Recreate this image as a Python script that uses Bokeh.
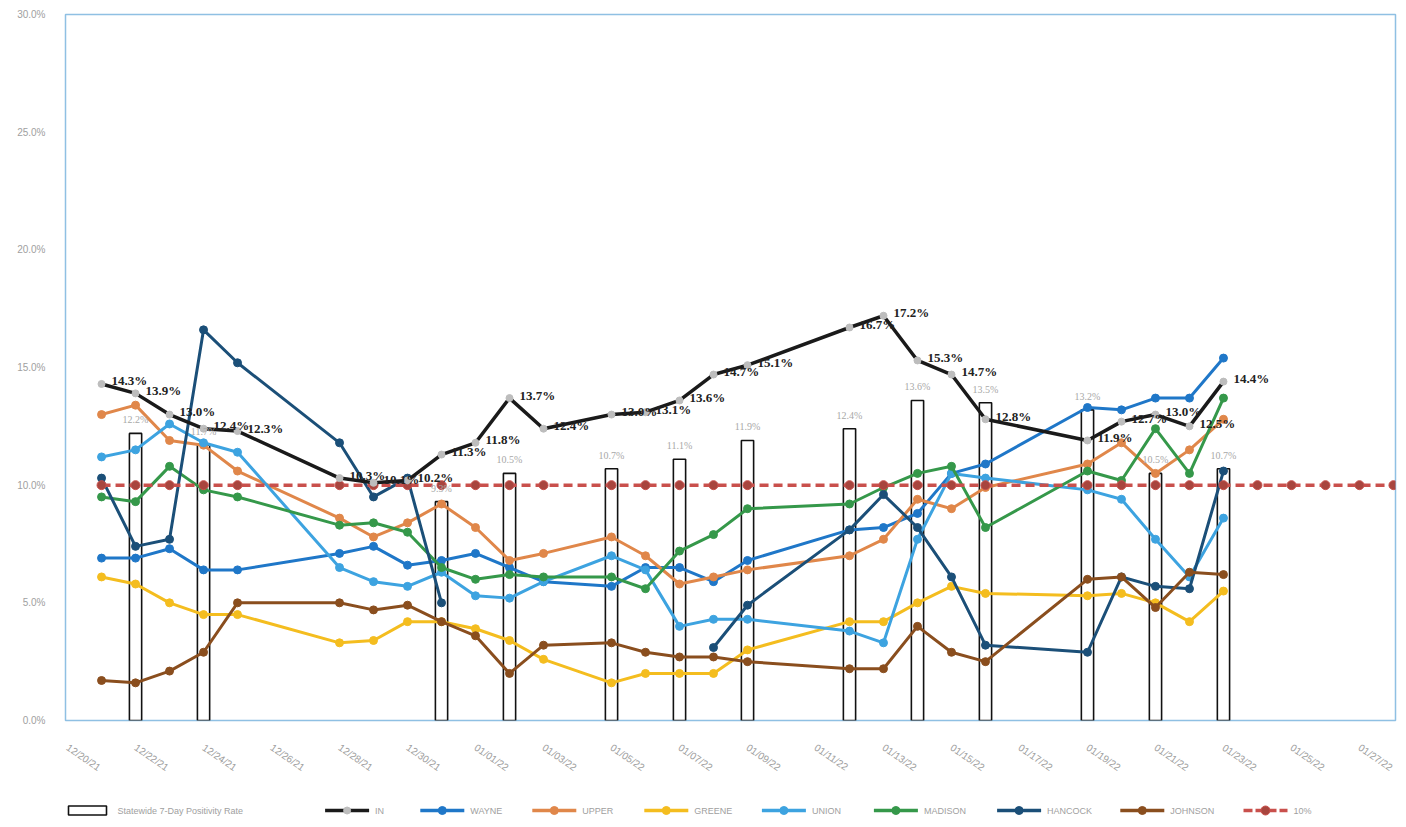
import math
from bokeh.plotting import figure
from bokeh.layouts import column
from bokeh.models import (Range1d, FixedTicker, ColumnDataSource, LabelSet)
from bokeh.core.properties import value
from bokeh.embed import file_html
from bokeh.resources import INLINE

# ---------------- data ----------------
nan = float("nan")
tick_days = list(range(0, 40, 2))
tick_labels = ["12/20/21", "12/22/21", "12/24/21", "12/26/21", "12/28/21",
               "12/30/21", "01/01/22", "01/03/22", "01/05/22", "01/07/22",
               "01/09/22", "01/11/22", "01/13/22", "01/15/22", "01/17/22",
               "01/19/22", "01/21/22", "01/23/22", "01/25/22", "01/27/22"]

days = [1, 2, 3, 4, 5, 8, 9, 10, 11, 12, 13, 14, 16, 17, 18, 19, 20,
        23, 24, 25, 26, 27, 30, 31, 32, 33, 34]

state = [14.3, 13.9, 13.0, 12.4, 12.3, 10.3, 10.1, 10.2, 11.3, 11.8, 13.7, 12.4,
         13.0, 13.1, 13.6, 14.7, 15.1, 16.7, 17.2, 15.3, 14.7, 12.8,
         11.9, 12.7, 13.0, 12.5, 14.4]
wayne = [6.9, 6.9, 7.3, 6.4, 6.4, 7.1, 7.4, 6.6, 6.8, 7.1, 6.5, 5.9,
         5.7, 6.5, 6.5, 5.9, 6.8, 8.1, 8.2, 8.8, 10.5, 10.9,
         13.3, 13.2, 13.7, 13.7, 15.4]
upper = [13.0, 13.4, 11.9, 11.7, 10.6, 8.6, 7.8, 8.4, 9.2, 8.2, 6.8, 7.1,
         7.8, 7.0, 5.8, 6.1, 6.4, 7.0, 7.7, 9.4, 9.0, 9.9,
         10.9, 11.8, 10.5, 11.5, 12.8]
greene = [6.1, 5.8, 5.0, 4.5, 4.5, 3.3, 3.4, 4.2, 4.2, 3.9, 3.4, 2.6,
          1.6, 2.0, 2.0, 2.0, 3.0, 4.2, 4.2, 5.0, 5.7, 5.4,
          5.3, 5.4, 5.0, 4.2, 5.5]
union = [11.2, 11.5, 12.6, 11.8, 11.4, 6.5, 5.9, 5.7, 6.3, 5.3, 5.2, 5.9,
         7.0, 6.4, 4.0, 4.3, 4.3, 3.8, 3.3, 7.7, 10.5, 10.3,
         9.8, 9.4, 7.7, 6.1, 8.6]
madison = [9.5, 9.3, 10.8, 9.8, 9.5, 8.3, 8.4, 8.0, 6.5, 6.0, 6.2, 6.1,
           6.1, 5.6, 7.2, 7.9, 9.0, 9.2, 9.9, 10.5, 10.8, 8.2,
           10.6, 10.2, 12.4, 10.5, 13.7]
hancock = [10.3, 7.4, 7.7, 16.6, 15.2, 11.8, 9.5, 10.3, 5.0, nan, nan, nan,
           nan, nan, nan, 3.1, 4.9, 8.1, 9.6, 8.2, 6.1, 3.2,
           2.9, 6.1, 5.7, 5.6, 10.6]
johnson = [1.7, 1.6, 2.1, 2.9, 5.0, 5.0, 4.7, 4.9, 4.2, 3.6, 2.0, 3.2,
           3.3, 2.9, 2.7, 2.7, 2.5, 2.2, 2.2, 4.0, 2.9, 2.5,
           6.0, 6.1, 4.8, 6.3, 6.2]

bar_days = [2, 4, 11, 13, 16, 18, 20, 23, 25, 27, 30, 32, 34]
bar_vals = [12.2, 11.7, 9.3, 10.5, 10.7, 11.1, 11.9, 12.4, 13.6, 13.5, 13.2, 10.5, 10.7]

goal_days = days + [35, 36, 37, 38, 39]
goal_vals = [10.0] * len(goal_days)

y_ticks = [0, 5, 10, 15, 20, 25, 30]
y_labels = ["0.0%", "5.0%", "10.0%", "15.0%", "20.0%", "25.0%", "30.0%"]

series = [
    ("WAYNE", wayne, "#1f77c8"),
    ("UPPER", upper, "#e0874a"),
    ("GREENE", greene, "#f4bd1f"),
    ("UNION", union, "#3da3e0"),
    ("MADISON", madison, "#35984a"),
    ("HANCOCK", hancock, "#1b4f78"),
    ("JOHNSON", johnson, "#8a4e1e"),
]
bar_name = "Statewide 7-Day Positivity Rate"
state_name = "IN"
goal_name = "10%"

STATE_COL, STATE_DOT = "#1a1a1a", "#bdbdbd"
GOAL_COL, GOAL_DOT = "#c9504c", "#a8453e"
TXT = "#a0a0a0"

# ---------------- main figure ----------------
p = figure(width=1398, height=789, output_backend="svg", toolbar_location=None,
           x_range=Range1d(-0.06, 39.06), y_range=Range1d(0, 30),
           min_border_left=65, min_border_right=3, min_border_top=14,
           min_border_bottom=69)
p.grid.visible = False
p.outline_line_color = "#8fc0e3"
p.outline_line_width = 1.5
p.background_fill_color = "white"

p.xaxis.ticker = FixedTicker(ticks=tick_days)
p.xaxis.major_label_overrides = {d: l for d, l in zip(tick_days, tick_labels)}
p.xaxis.major_label_orientation = -0.6
p.yaxis.ticker = FixedTicker(ticks=y_ticks)
p.yaxis.major_label_overrides = {t: l for t, l in zip(y_ticks, y_labels)}
for ax in (p.xaxis, p.yaxis):
    ax.axis_line_color = None
    ax.major_tick_line_color = None
    ax.minor_tick_line_color = None
    ax.major_label_text_color = TXT
    ax.major_label_text_font = "Liberation Sans"
    ax.major_label_text_font_size = "10px"
p.yaxis.major_label_standoff = 14
p.xaxis.major_label_standoff = 20

# bars
bsrc = ColumnDataSource(dict(x=bar_days, top=bar_vals,
                             lab=[f"{v:.1f}%" for v in bar_vals]))
p.vbar(x="x", top="top", width=0.36, bottom=0, source=bsrc,
       fill_color="white", line_color="#111111", line_width=1.6)
p.add_layout(LabelSet(x="x", y="top", text="lab", source=bsrc, y_offset=8,
                      text_align="center", text_baseline="bottom",
                      text_font_size="10px", text_color="#a8a8a8",
                      text_font="Liberation Sans"))

for name, vals, col in series:
    src = ColumnDataSource(dict(x=days, y=vals))
    p.line("x", "y", source=src, line_color=col, line_width=3)
    p.scatter("x", "y", source=src, size=8, fill_color=col, line_color=col)

gsrc = ColumnDataSource(dict(x=goal_days, y=goal_vals))
p.line("x", "y", source=gsrc, line_color=GOAL_COL, line_width=3.5, line_dash="9 5")
p.scatter("x", "y", source=gsrc, size=9, fill_color=GOAL_DOT, line_color=GOAL_COL)

ssrc = ColumnDataSource(dict(x=days, y=state, lab=[f"{v:.1f}%" for v in state]))
p.line("x", "y", source=ssrc, line_color=STATE_COL, line_width=3.5)
p.scatter("x", "y", source=ssrc, size=7, fill_color=STATE_DOT, line_color=STATE_DOT)
p.add_layout(LabelSet(x="x", y="y", text="lab", source=ssrc, x_offset=10,
                      y_offset=3, text_align="left", text_baseline="middle",
                      text_font_size="13px", text_font_style="bold",
                      text_color="#222222", text_font="Liberation Serif"))

# ---------------- legend strip (pixel units; frame aligned with main plot) ----------------
W, H = 1398, 30
FRAME_L, FRAME_R = 65, 1395
lg = figure(width=W, height=H, output_backend="svg", toolbar_location=None,
            x_axis_location=None, y_axis_location=None,
            x_range=Range1d(FRAME_L, FRAME_R), y_range=Range1d(0, H),
            min_border_left=65, min_border_right=3, min_border_top=0,
            min_border_bottom=0)
lg.grid.visible = False
lg.outline_line_color = None

GLYPH_W, STANDOFF, GAP, CHAR_W = 44, 6, 34, 5.6
yc = 9
entries = ([("bar", bar_name, None, None, 0)]
           + [("line", state_name, STATE_COL, STATE_DOT, 7)]
           + [("line", n, c, c, 8) for n, _, c in series]
           + [("dash", goal_name, GOAL_COL, GOAL_DOT, 9)])
x = FRAME_L + 2
for kind, label, col, dot, size in entries:
    if kind == "bar":
        lg.rect(x=[x + 20], y=[yc], width=38, height=9, fill_color="white",
                line_color="#111111", line_width=1.6)
    else:
        lg.segment(x0=[x], y0=[yc], x1=[x + GLYPH_W], y1=[yc], line_color=col,
                   line_width=3.5, line_dash="9 3" if kind == "dash" else "solid")
        lg.scatter(x=[x + GLYPH_W / 2], y=[yc], size=size, fill_color=dot,
                   line_color=col if kind == "dash" else dot)
    lg.text(x=[x + GLYPH_W + STANDOFF], y=[yc], text=[label],
            text_font=value("Liberation Sans"), text_font_size="9px",
            text_color=TXT, text_baseline="middle", text_align="left")
    x += GLYPH_W + STANDOFF + len(label) * CHAR_W + GAP

layout = column(p, lg, spacing=0)
open("out.html", "w").write(file_html(layout, INLINE))
